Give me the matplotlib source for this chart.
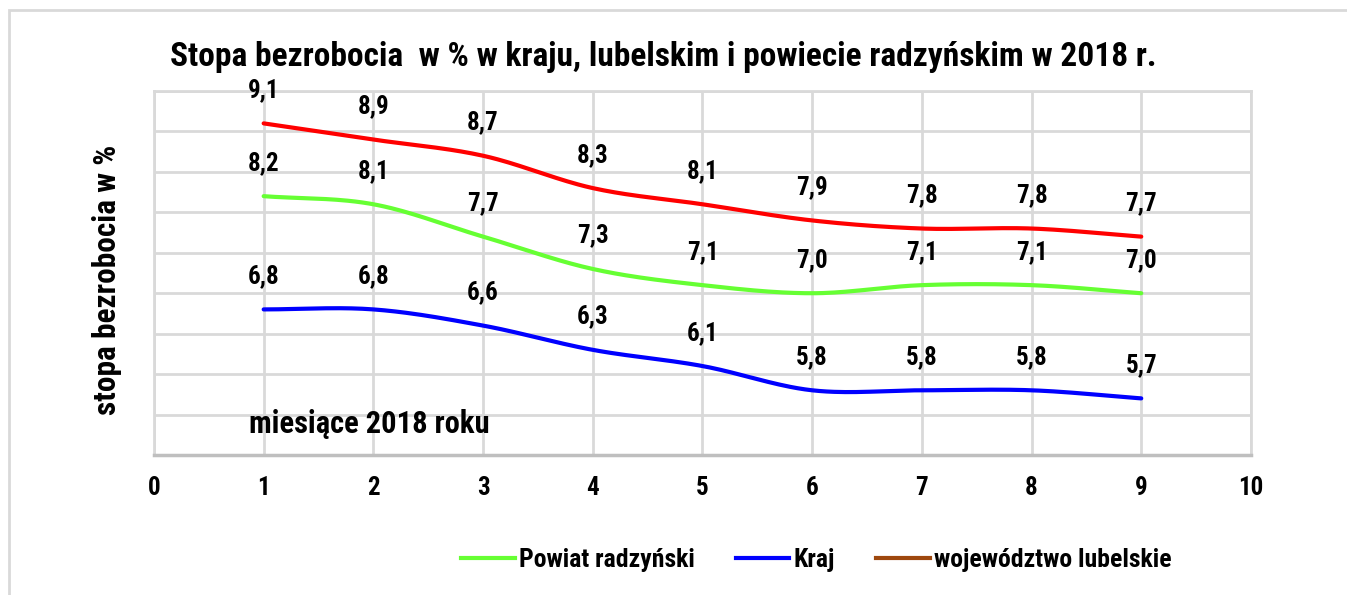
import matplotlib.pyplot as plt
from matplotlib.lines import Line2D
from matplotlib.patches import Rectangle
import numpy as np

plt.rcParams['font.family'] = ['Roboto Condensed', 'DejaVu Sans']
plt.rcParams['font.weight'] = 'bold'

# months of 2018
months = [1, 2, 3, 4, 5, 6, 7, 8, 9]
powiat = [8.2, 8.1, 7.7, 7.3, 7.1, 7.0, 7.1, 7.1, 7.0]
kraj = [6.8, 6.8, 6.6, 6.3, 6.1, 5.8, 5.8, 5.8, 5.7]
lubelskie = [9.1, 8.9, 8.7, 8.3, 8.1, 7.9, 7.8, 7.8, 7.7]

x_ticks = list(range(0, 11))
legend_labels = ["Powiat radzyński", "Kraj", "województwo lubelskie"]


def smooth(x, y, n=30):
    # Catmull-Rom curve through the points, like Excel's smoothed line
    x = np.asarray(x, float)
    y = np.asarray(y, float)
    px = np.concatenate([[2 * x[0] - x[1]], x, [2 * x[-1] - x[-2]]])
    py = np.concatenate([[2 * y[0] - y[1]], y, [2 * y[-1] - y[-2]]])
    xs, ys = [], []
    t = np.linspace(0, 1, n, endpoint=False)
    for i in range(1, len(px) - 2):
        for p, out in ((px, xs), (py, ys)):
            p0, p1, p2, p3 = p[i - 1], p[i], p[i + 1], p[i + 2]
            out.extend(0.5 * (2 * p1 + (-p0 + p2) * t
                              + (2 * p0 - 5 * p1 + 4 * p2 - p3) * t ** 2
                              + (-p0 + 3 * p1 - 3 * p2 + p3) * t ** 3))
    xs.append(x[-1])
    ys.append(y[-1])
    return np.array(xs), np.array(ys)


fig = plt.figure(figsize=(13.47, 5.95), dpi=100)
ax = fig.add_axes([0.1143, 0.2353, 0.8144, 0.6117])

# outer chart frame
fig.patches.append(Rectangle((9 / 1347, -0.01), 1.1, 1 - 10 / 595 + 0.01,
                             transform=fig.transFigure, fill=False,
                             edgecolor="#d9d9d9", lw=2))

series = [
    (lubelskie, "#ff0000"),
    (powiat, "#66ff33"),
    (kraj, "#0000ff"),
]
for vals, col in series:
    sx, sy = smooth(months, vals)
    ax.plot(sx, sy, color=col, lw=3.0, solid_capstyle="round", zorder=3)
    for m, v in zip(months, vals):
        ax.annotate(f"{v:.1f}".replace(".", ","), (m, v), xytext=(0, 24),
                    textcoords="offset points", ha="center", va="center",
                    fontsize=18, fontweight="bold")

ax.set_xlim(0, 10)
ax.set_ylim(5.0, 9.5)
ax.set_xticks(x_ticks)
ax.set_yticks(np.arange(5.0, 9.51, 0.5))
ax.set_yticklabels([])
ax.tick_params(axis="y", length=0)
ax.tick_params(axis="x", length=0, labelsize=18, pad=15)
for lab in ax.get_xticklabels():
    lab.set_fontweight("bold")
ax.grid(True, color="#d9d9d9", lw=2)
ax.set_axisbelow(True)
for s in ["top", "left", "right"]:
    ax.spines[s].set_color("#d9d9d9")
    ax.spines[s].set_linewidth(2)
ax.spines["bottom"].set_color("#bfbfbf")
ax.spines["bottom"].set_linewidth(2.5)

ax.text(0.87, 5.38, "miesiące 2018 roku", fontsize=22, fontweight="bold",
        ha="left", va="center")
fig.text(107 / 1347, 1 - 280 / 595, "stopa bezrobocia w %", rotation=90,
         fontsize=22.5, fontweight="bold", ha="center", va="center")
fig.text(663 / 1347, 1 - 57 / 595,
         "Stopa bezrobocia  w % w kraju, lubelskim i powiecie radzyńskim w 2018 r.",
         fontsize=24, fontweight="bold", ha="center", va="center")

handles = [
    Line2D([], [], color="#66ff33", lw=3.0),
    Line2D([], [], color="#0000ff", lw=3.0),
    Line2D([], [], color="#9e480e", lw=3.0),
]
fig.legend(handles, legend_labels, loc="center", ncol=3, frameon=False,
           bbox_to_anchor=(816 / 1347, 1 - 560 / 595),
           handlelength=2.1, handletextpad=0.15, columnspacing=1.6,
           prop={"weight": "bold", "size": 18.5})

fig.savefig("out.png", dpi=100)
